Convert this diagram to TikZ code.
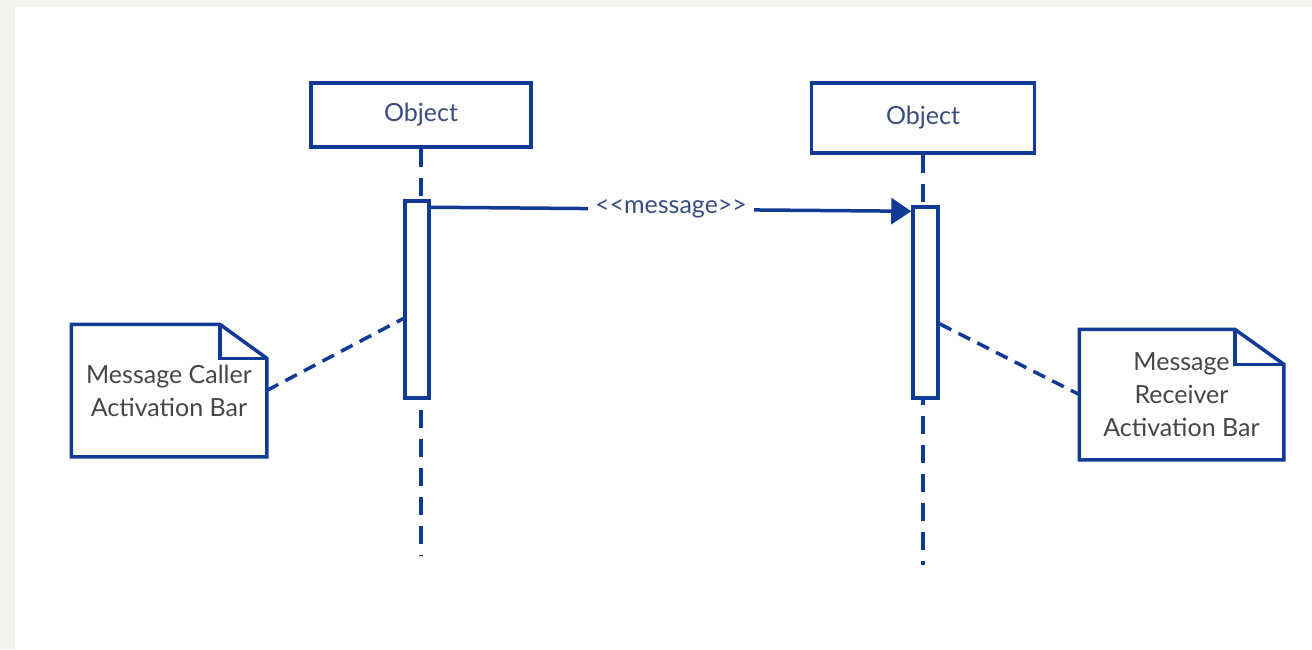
\documentclass[tikz,border=0pt]{standalone}
\usepackage{fontspec}
\newfontfamily\latofont{Lato}
\usetikzlibrary{arrows.meta,calc,positioning}

\definecolor{umlblue}{RGB}{16,58,150}
\definecolor{labelblue}{RGB}{58,76,128}
\definecolor{notegray}{RGB}{70,70,70}
\definecolor{pagegray}{RGB}{243,243,240}

\begin{document}
\begin{tikzpicture}[x=1pt,y=-1pt,line width=3.5pt,
    object/.style={draw=umlblue,fill=white,text=labelblue,inner sep=0pt,
      font=\latofont\fontsize{25}{29}\selectfont},
    actbar/.style={draw=umlblue,fill=white,inner sep=0pt},
    lifeline/.style={umlblue,dash pattern=on 18pt off 11pt},
    notebox/.style={inner sep=0pt,align=center,text=notegray,
      font=\latofont\fontsize{25}{33}\selectfont},
    notelink/.style={umlblue,dash pattern=on 13pt off 8pt},
    message/.style={umlblue,-{Triangle[length=20pt,width=26pt]}}]

    % page
    \fill[pagegray] (0,0) rectangle (1312,649);
    \fill[white] (15,7) rectangle (1312,649);

    % the two objects and their lifelines
    \node[object,minimum width=220pt,minimum height=64pt] (caller) at (421,115) {Object};
    \node[object,minimum width=223pt,minimum height=70pt] (receiver) at (923,118) {Object};
    \coordinate (callerend) at (421,555);
    \coordinate (receiverend) at (923,565);
    \draw[lifeline] (caller.south) -- (callerend);
    \draw[lifeline] (receiver.south) -- (receiverend);

    % activation bars
    \node[actbar,minimum width=24pt,minimum height=197pt] (callerbar) at (417,299.5) {};
    \node[actbar,minimum width=25pt,minimum height=191pt] (receiverbar) at (925.5,302.5) {};

    \draw[message] ($(callerbar.north east)+(0,8)$) --
      node[fill=white,text=labelblue,inner xsep=7pt,
        font=\latofont\fontsize{25}{28}\selectfont] (msglabel) {<<message>>}
      ($(receiverbar.north west)+(0,6)$);

    % notes with a folded corner
    \node[notebox,minimum width=192pt,minimum height=129pt] (callernote) at (169,390.5)
      {Message Caller\\Activation Bar};
    \node[notebox,minimum width=201pt,minimum height=127pt] (receivernote) at (1181.5,394.5)
      {Message\\Receiver\\Activation Bar};
    \foreach \n/\fx/\fy in {callernote/47/34,receivernote/49/35} {
      \draw[umlblue,line join=miter] (\n.south west) -- (\n.north west)
        -- ($(\n.north east)+(-\fx,0)$) -- ($(\n.north east)+(0,\fy)$)
        -- (\n.south east) -- cycle;
      \draw[umlblue] ($(\n.north east)+(-\fx,0)$) |- ($(\n.north east)+(0,\fy)$);
    }

    \draw[notelink] (callernote.east) -- ($(callerbar.north west)!0.595!(callerbar.south west)$);
    \draw[notelink] ($(receiverbar.north east)!0.61!(receiverbar.south east)$) -- (receivernote.west);
\end{tikzpicture}
\end{document}
